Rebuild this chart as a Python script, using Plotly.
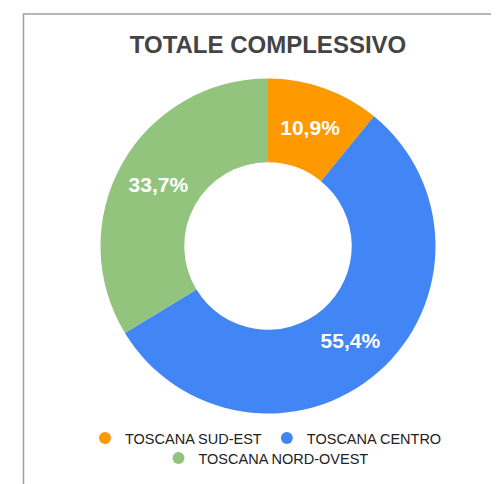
import plotly.graph_objects as go

categories = ["TOSCANA SUD-EST", "TOSCANA CENTRO", "TOSCANA NORD-OVEST"]
values = [10.9, 55.4, 33.7]
colors = ["#FF9900", "#4285F4", "#93C47D"]
legend_rows = ["legend", "legend", "legend2"]
title_text = "TOTALE COMPLESSIVO"

W, H = 499, 484
dx, dy = -7.5, -7.5

fig = go.Figure()
fig.add_trace(go.Pie(
    labels=categories, values=values, hole=0.5, sort=False, direction="clockwise",
    rotation=0, marker=dict(colors=colors, line=dict(width=0)),
    texttemplate="%{percent:.1%}", textposition="inside",
    insidetextorientation="horizontal",
    insidetextfont=dict(family="Liberation Sans, Arial", size=21, color="white", weight="bold"),
    showlegend=False, hoverinfo="label+percent",
    domain=dict(x=[(100 + dx) / W, (435 + dx) / W], y=[1 - (413 + dy) / H, 1 - (78 + dy) / H]),
))
for c, col, lg in zip(categories, colors, legend_rows):
    fig.add_trace(go.Scatter(x=[None], y=[None], mode="markers", name=c, legend=lg,
                             marker=dict(symbol="circle", size=15, color=col)))

legend_font = dict(family="Liberation Sans, Arial", size=14.5, color="#222222")
clear = "rgba(0,0,0,0)"
fig.update_layout(
    width=W, height=H, margin=dict(l=0, r=0, t=0, b=0),
    paper_bgcolor="white", plot_bgcolor="white",
    separators=",.",
    title=dict(text="<b>" + title_text + "</b>", x=260 / W, xanchor="center",
               y=1 - 37 / H, yanchor="middle",
               font=dict(family="Liberation Sans, Arial", size=24, color="#444444")),
    xaxis=dict(visible=False), yaxis=dict(visible=False),
    legend=dict(orientation="h", x=258 / W, xanchor="center", y=1 - 430 / H, yanchor="middle",
                font=legend_font, itemsizing="constant", bgcolor=clear),
    legend2=dict(orientation="h", x=258 / W, xanchor="center", y=1 - 450 / H, yanchor="middle",
                 font=legend_font, itemsizing="constant", bgcolor=clear),
    shapes=[
        dict(type="line", xref="paper", yref="paper", x0=15 / W, x1=1, y0=1 - 6 / H, y1=1 - 6 / H,
             line=dict(color="#9E9E9E", width=1.5)),
        dict(type="line", xref="paper", yref="paper", x0=15.5 / W, x1=15.5 / W, y0=1 - 6 / H, y1=0,
             line=dict(color="#9E9E9E", width=1.5)),
    ],
)
fig.write_html("out.html")
